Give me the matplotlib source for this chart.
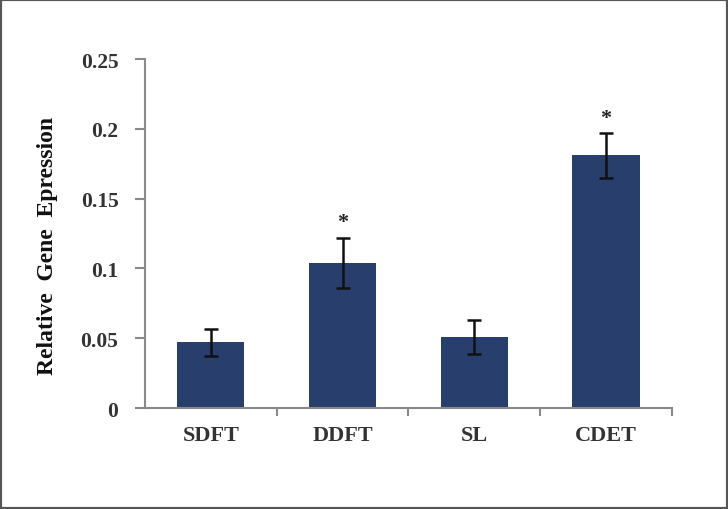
import matplotlib.pyplot as plt
from matplotlib.patches import Rectangle

categories = ['SDFT', 'DDFT', 'SL', 'CDET']
values = [0.047, 0.104, 0.051, 0.181]
errors = [0.0095, 0.018, 0.012, 0.016]
significant = [False, True, False, True]
yticks = [0, 0.05, 0.1, 0.15, 0.2, 0.25]
ytick_labels = ['0', '0.05', '0.1', '0.15', '0.2', '0.25']

bar_color = '#283e6c'
axis_color = '#8a8a8a'
font = 'Liberation Serif'

fig = plt.figure(figsize=(7.28, 5.10), dpi=100)
ax = fig.add_axes([0.199, 0.198, 0.724, 0.684])

x = list(range(len(categories)))
ax.bar(x, values, width=0.51, color=bar_color, zorder=2)
ax.errorbar(x, values, yerr=errors, fmt='none', ecolor='#111111',
            elinewidth=1.8, capsize=5, capthick=1.8, zorder=3)

# significance stars
for xi, v, e, s in zip(x, values, errors, significant):
    if s:
        ax.text(xi, v + e + 0.011, '*', ha='center', va='center',
                fontsize=16, fontweight='bold', family=font, color='#222222')

ax.set_xlim(-0.5, 3.5)
ax.set_ylim(0, 0.25)
ax.set_yticks(yticks)
ax.set_yticklabels(ytick_labels, family=font, fontweight='bold', fontsize=15.5, color='#333333')
ax.set_xticks(x)
ax.set_xticklabels(categories, family=font, fontweight='bold', fontsize=16, color='#333333')
ax.set_xticks([0.5, 1.5, 2.5, 3.5], minor=True)
ax.tick_params(axis='x', which='major', length=0, pad=12)
ax.tick_params(axis='x', which='minor', length=6, width=1.5, color=axis_color, direction='out')
ax.tick_params(axis='y', length=7, width=1.5, color=axis_color, direction='out', pad=12)

for side in ['top', 'right']:
    ax.spines[side].set_visible(False)
for side in ['left', 'bottom']:
    ax.spines[side].set_color(axis_color)
    ax.spines[side].set_linewidth(1.5)

ax.set_ylabel('Relative  Gene  Epression', family=font, fontweight='bold',
              fontsize=17, color='#111111')
ax.yaxis.set_label_coords(-0.165, 0.467)

# gray frame around the whole picture
fig.patches.append(Rectangle((0, 0), 1, 1, transform=fig.transFigure,
                             fill=False, edgecolor='#555555', linewidth=3))

plt.savefig('out.png', dpi=100)
